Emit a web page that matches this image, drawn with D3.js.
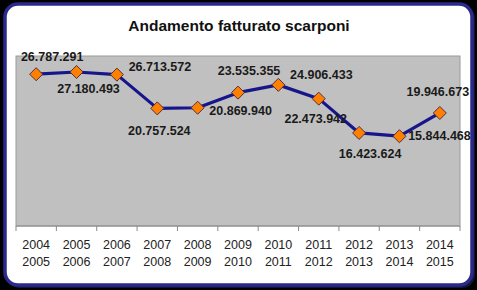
<!DOCTYPE html>
<html>
<head>
<meta charset="utf-8">
<script src="https://cdn.jsdelivr.net/npm/d3@7"></script>
<style>
  body { margin: 0; background: #000; }
  svg { display: block; font-family: "Liberation Sans", Arial, sans-serif; }
  .t_title { font-size: 15.5px; font-weight: bold; fill: #111; }
  .t_val { font-size: 12.5px; font-weight: bold; fill: #1a1a1a; }
  .axis text { font-size: 12.5px; fill: #222; }
</style>
</head>
<body>
<svg width="477" height="290"></svg>
<script>
/* ----------------------------------------------------------
data
---------------------------------------------------------- */

var title = "Andamento fatturato scarponi";
var seasons = [
  ["2004", "2005"], ["2005", "2006"], ["2006", "2007"], ["2007", "2008"],
  ["2008", "2009"], ["2009", "2010"], ["2010", "2011"], ["2011", "2012"],
  ["2012", "2013"], ["2013", "2014"], ["2014", "2015"]
];
var fatturato = [
  26787291, 27180493, 26713572, 20757524, 20869940, 23535355,
  24906433, 22473942, 16423624, 15844468, 19946673
];

// where each data label sits relative to its point (dx, dy to baseline)
var labelOffsets = [
  [16, -13], [12, 21], [43, -4], [2, 27], [43, 7], [11, -18],
  [43, -6], [-3, 24], [11, 25], [40, 4], [-2, -17]
];

/* ----------------------------------------------------------
prepare
---------------------------------------------------------- */

var svg = d3.select("svg");
var fmt = d3.formatLocale({ decimal: ",", thousands: ".", grouping: [3], currency: ["", ""] }).format(",d");

// frame (dark shadow bottom-right, then navy border)
svg.append("rect")
  .attr("x", 7).attr("y", 6).attr("width", 468).attr("height", 282)
  .attr("rx", 13).attr("fill", "#14143c");
svg.append("rect")
  .attr("x", 5).attr("y", 4).attr("width", 467).attr("height", 281)
  .attr("rx", 13).attr("fill", "#fff")
  .attr("stroke", "#2b2a8c").attr("stroke-width", 3.5);

svg.append("text").attr("class", "t_title")
  .attr("x", 239).attr("y", 31).attr("text-anchor", "middle")
  .text(title);

var plot = { left: 16, top: 56, right: 460, bottom: 226 };

var x = d3.scaleBand()
  .domain(d3.range(seasons.length))
  .range([plot.left, plot.right]);

var y = d3.scaleLinear()
  .domain([0, 30000000])
  .range([plot.bottom, plot.top]);

svg.append("rect")
  .attr("x", plot.left).attr("y", plot.top)
  .attr("width", plot.right - plot.left).attr("height", plot.bottom - plot.top)
  .attr("fill", "#c0c0c0").attr("stroke", "#9a9a9a").attr("stroke-width", 1);

// x axis
var gx = svg.append("g").attr("class", "axis")
  .attr("transform", "translate(0," + plot.bottom + ")");
gx.append("line")
  .attr("x1", plot.left).attr("x2", plot.right)
  .attr("stroke", "#8a8a8a");
gx.selectAll(".tick")
  .data(d3.range(seasons.length + 1)).enter().append("line")
  .attr("class", "tick")
  .attr("x1", i => plot.left + i * x.step()).attr("x2", i => plot.left + i * x.step())
  .attr("y1", 0).attr("y2", 5)
  .attr("stroke", "#8a8a8a");
var lab = gx.selectAll(".lab")
  .data(seasons).enter().append("text")
  .attr("class", "lab")
  .attr("text-anchor", "middle")
  .attr("x", (d, i) => x(i) + x.bandwidth() / 2);
lab.append("tspan").attr("y", 23).text(d => d[0]);
lab.append("tspan").attr("y", 40).attr("x", (d, i) => x(i) + x.bandwidth() / 2).text(d => d[1]);

// line
var cx = i => x(i) + x.bandwidth() / 2;
var line = d3.line()
  .x((d, i) => cx(i))
  .y(d => y(d));

svg.append("path")
  .datum(fatturato)
  .attr("d", line)
  .attr("fill", "none")
  .attr("stroke", "#16168a")
  .attr("stroke-width", 3.2)
  .attr("stroke-linejoin", "round");

svg.selectAll(".mark")
  .data(fatturato).enter().append("path")
  .attr("class", "mark")
  .attr("d", d3.symbol().type(d3.symbolSquare).size(85))
  .attr("transform", (d, i) => "translate(" + cx(i) + "," + y(d) + ") rotate(45)")
  .attr("fill", "#ff8000")
  .attr("stroke", "#4a2a40")
  .attr("stroke-width", 0.9);

svg.selectAll(".t_val")
  .data(fatturato).enter().append("text")
  .attr("class", "t_val")
  .attr("text-anchor", "middle")
  .attr("x", (d, i) => cx(i) + labelOffsets[i][0])
  .attr("y", (d, i) => y(d) + labelOffsets[i][1])
  .text(d => fmt(d));
</script>
</body>
</html>
